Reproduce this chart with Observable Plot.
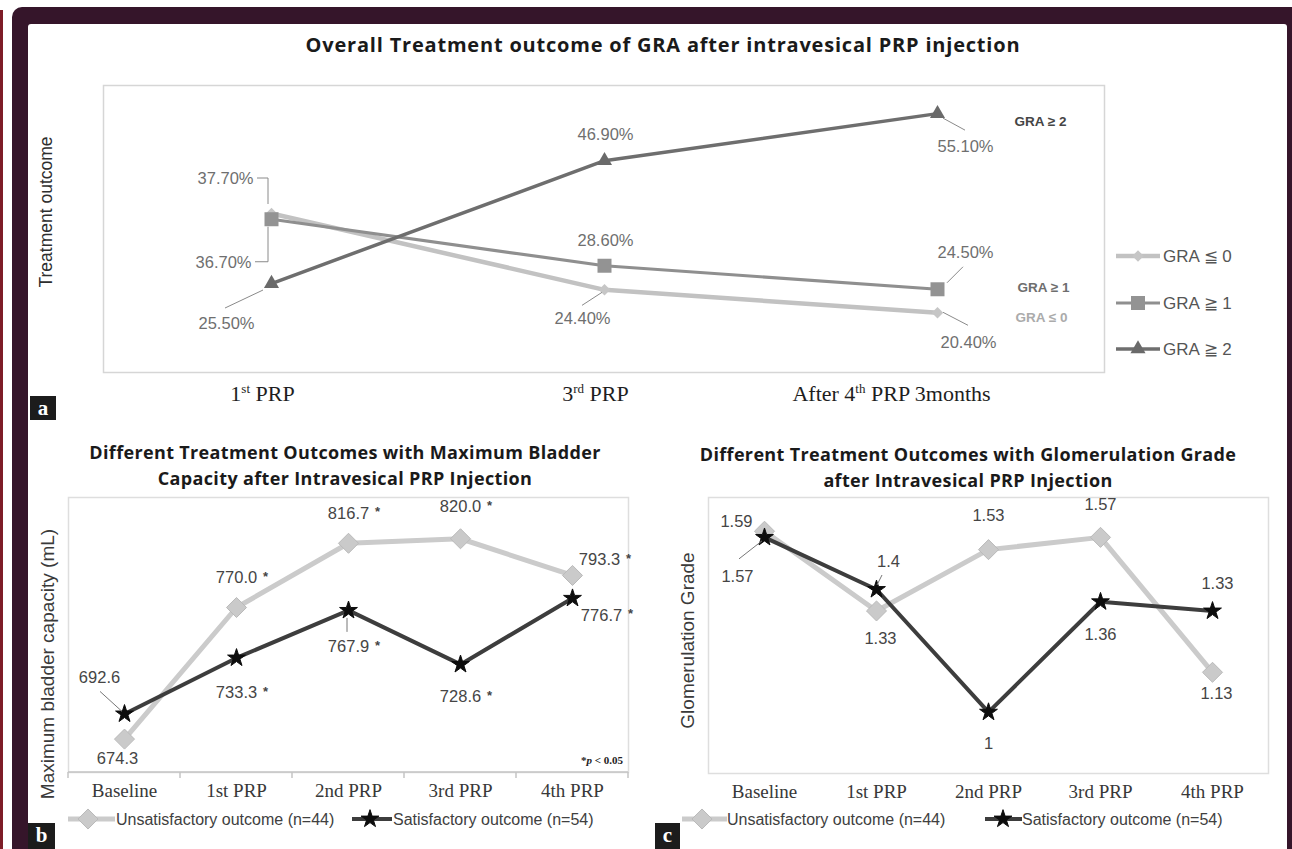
<!DOCTYPE html>
<html>
<head>
<meta charset="utf-8">
<script src="https://cdn.jsdelivr.net/npm/d3@7"></script>
<script src="https://cdn.jsdelivr.net/npm/@observablehq/plot@0.6"></script>
<style>
html,body{margin:0;padding:0;}
body{width:1292px;height:849px;overflow:hidden;position:relative;background:#fff;font-family:"Liberation Sans",Arial,sans-serif;}
.abs{position:absolute;}
#redstrip{left:0;top:10px;width:3px;height:839px;background:#7e1d27;}
#darkframe{left:12px;top:7px;width:1280px;height:860px;background:#35152a;border-radius:10px 0 0 0;}
#inner{left:28px;top:24px;width:1259px;height:840px;background:#fff;border-radius:3px;}
.title{font-family:"Open Sans",sans-serif;font-weight:700;color:#1a1a1a;text-align:center;white-space:nowrap;line-height:26px;}
.tag{background:#1c1c1c;color:#fff;font-family:"Liberation Serif",serif;font-weight:700;font-size:21px;text-align:center;line-height:24px;}
</style>
</head>
<body>
<div class="abs" id="redstrip"></div>
<div class="abs" id="darkframe"></div>
<div class="abs" id="inner"></div>
<div class="abs title" style="left:263px;top:32px;width:800px;font-size:20px;letter-spacing:0.8px;">Overall Treatment outcome of GRA after intravesical PRP injection</div>
<div class="abs title" style="left:45px;top:439px;width:600px;font-size:18px;letter-spacing:0.35px;">Different Treatment Outcomes with Maximum Bladder<br>Capacity after Intravesical PRP Injection</div>
<div class="abs title" style="left:668px;top:441px;width:600px;font-size:18px;letter-spacing:0.35px;">Different Treatment Outcomes with Glomerulation Grade<br>after Intravesical PRP Injection</div>
<div class="abs tag" style="left:30px;top:396px;width:26px;height:24px;">a</div>
<div class="abs tag" style="left:28px;top:823px;width:27px;height:26px;">b</div>
<div class="abs tag" style="left:655px;top:823px;width:25px;height:26px;">c</div>
<script>
// ---------------- DATA ----------------
// Panel a
const stagesA = ["1st PRP", "3rd PRP", "After 4th PRP 3months"];
const groupsA = ["GRA ≦ 0", "GRA ≧ 1", "GRA ≧ 2"];
const inlineNamesA = ["GRA ≤ 0", "GRA ≥ 1", "GRA ≥ 2"];
const gra0 = [37.7, 24.4, 20.4];
const gra1 = [36.7, 28.6, 24.5];
const gra2 = [25.5, 46.9, 55.1];

// Panels b and c
const stagesBC = ["Baseline", "1st PRP", "2nd PRP", "3rd PRP", "4th PRP"];
const groupsBC = ["Unsatisfactory outcome (n=44)", "Satisfactory outcome (n=54)"];
const capacityUnsat = [674.3, 770.0, 816.7, 820.0, 793.3];
const capacitySat = [692.6, 733.3, 767.9, 728.6, 776.7];
const capacitySig = [false, true, true, true, true];
const gradeUnsat = [1.59, 1.33, 1.53, 1.57, 1.13];
const gradeSat = [1.57, 1.4, 1, 1.36, 1.33];

// ---------------- STYLE ----------------
const serif = "'Liberation Serif','Times New Roman',serif";
const sans = "'Liberation Sans',Arial,sans-serif";
const diamondSym = {draw(c, size) {const h = Math.sqrt(size / 2); c.moveTo(0, -h); c.lineTo(h, 0); c.lineTo(0, h); c.lineTo(-h, 0); c.closePath();}};
const styleA = [
  {line: "#c2c2c2", width: 4.5, symbol: diamondSym, r: 4.6, fill: "#c6c6c6"},
  {line: "#8f8f8f", width: 3.2, symbol: "square", r: 7.9, fill: "#939393"},
  {line: "#6e6e6e", width: 3.5, symbol: "triangle", r: 5.6, fill: "#6a6a6a"}
];
const styleBC = [
  {line: "#cbcbcb", width: 5, symbol: diamondSym, r: 8, fill: "#cacaca", stroke: "#bababa"},
  {line: "#3d3d3d", width: 4, symbol: "star", r: 5.6, fill: "#0d0d0d", stroke: "#0d0d0d"}
];
// label offsets [dx, dy, anchor] per group/stage (annotation placement only)
const labelPosA = [
  [[-18, -35, "end"], [-22, 29], [31, 30]],
  [[-20, 43, "end"], [1, -25], [28, -37]],
  [[-45, 40], [1, -26], [28, 33]]
];
const leadersA = [
  [0, 0, [[-14, -35], [-3, -35], [-3, -9]]],
  [1, 0, [[-16, 43], [-3, 43], [-3, 8]]],
  [2, 0, [[-46, 25], [-8, 7]]],
  [0, 1, [[-22, 16], [-2, 3]]],
  [2, 2, [[6, 5], [28, 17]]],
  [1, 2, [[10, -6], [26, -22]]],
  [0, 2, [[6, 0], [31, 13]]]
];
const inlinePosA = [[104, 5, "#ababab"], [106, -2, "#6e6e6e"], [103, 8, "#454545"]];
const tickShiftA = [-9, -9, -46];
const labelPosB = [
  [[-7, 20], [0, -30], [0, -30], [0, -32], [27, -16]],
  [[-25, -36], [0, 35], [0, 36], [0, 32], [29, 17]]
];
const leadersB = [[1, 0, [[-24, -22], [-2, -2]]], [1, 2, [[-1, 8], [-1, 22]]]];
const labelPosC = [
  [[-12, -10, "end"], [4, 28], [0, -34], [0, -33], [4, 21]],
  [[-27, 39], [12, -28], [0, 32], [0, 33], [5, -27]]
];
const leadersC = [[1, 0, [[-25, 22], [-2, 4]]], [1, 1, [[6, -14], [1, -4]]]];

// ---------------- HELPERS ----------------
function svgOf(p) { return p.tagName.toLowerCase() === "svg" ? p : p.querySelector("svg"); }
function place(el, left, top) {
  const d = document.createElement("div");
  d.style.cssText = `position:absolute;left:${left}px;top:${top}px;`;
  d.appendChild(el); document.body.appendChild(d);
}
function drawLeaders(plot, rowsByGroup, specs, color) {
  const sx = plot.scale("x"), sy = plot.scale("y");
  const g = d3.select(svgOf(plot)).append("g").attr("fill", "none").attr("stroke", color).attr("stroke-width", 1);
  for (const [gi, si, pts] of specs) {
    const r = rowsByGroup[gi][si];
    const x0 = sx.apply(r.stage), y0 = sy.apply(r.value);
    g.append("polyline").attr("points", pts.map(([dx, dy]) => `${x0 + dx},${y0 + dy}`).join(" "));
  }
}
const symbolOf = s => typeof s === "string" ? ({square: d3.symbolSquare, triangle: d3.symbolTriangle, star: d3.symbolStar})[s] : s;

// ---------------- PANEL A ----------------
const valuesA = [gra0, gra1, gra2];
const rowsA = groupsA.map((g, gi) => stagesA.map((s, i) => ({group: g, stage: s, value: valuesA[gi][i]})));
const marksA = [Plot.frame({stroke: "#d6d6d6", strokeWidth: 1.5})];
rowsA.forEach((rows, gi) => {
  const st = styleA[gi];
  marksA.push(Plot.line(rows, {x: "stage", y: "value", stroke: st.line, strokeWidth: st.width}));
  marksA.push(Plot.dot(rows, {x: "stage", y: "value", symbol: st.symbol, r: st.r, fill: st.fill, stroke: "none"}));
});
rowsA.forEach((rows, gi) => rows.forEach((r, si) => {
  const [dx, dy, anchor = "middle"] = labelPosA[gi][si];
  marksA.push(Plot.text([r], {x: "stage", y: "value", text: d => d.value.toFixed(2) + "%", dx, dy, textAnchor: anchor,
    fontFamily: sans, fontSize: 16.5, fill: "#6f6f6f"}));
}));
rowsA.forEach((rows, gi) => {
  const r = rows[rows.length - 1];
  const [dx, dy, col] = inlinePosA[gi];
  marksA.push(Plot.text([r], {x: "stage", y: "value", text: () => inlineNamesA[gi], dx, dy, fontFamily: sans, fontWeight: "bold", fontSize: 13.5, fill: col}));
});
stagesA.forEach((s, i) => marksA.push(Plot.text([s], {x: d => d, text: d => d, frameAnchor: "bottom", dy: 28, dx: tickShiftA[i],
  fontFamily: serif, fontSize: 22, fill: "#1e1e1e"})));
marksA.push(Plot.text(["Treatment outcome"], {text: d => d, frameAnchor: "left", textAnchor: "middle", dx: -57, dy: -17, rotate: -90,
  fontFamily: sans, fontSize: 17.5, fill: "#2e2e2e"}));

const plotA = Plot.plot({
  width: 1250, height: 360, marginLeft: 73, marginRight: 176, marginTop: 25, marginBottom: 48,
  x: {type: "point", domain: stagesA, padding: 0.5, axis: null},
  y: {domain: [10, 60], axis: null},
  style: {background: "transparent", overflow: "visible"},
  marks: marksA
});
place(plotA, 30, 60);
drawLeaders(plotA, rowsA, leadersA, "#8a8a8a");
d3.select(svgOf(plotA)).selectAll("text").each(function () {
  const m = this.textContent.match(/^(.*?\d)(st|nd|rd|th)(\s.*)$/);
  if (!m) return;
  const t = d3.select(this); this.textContent = "";
  t.append("tspan").text(m[1]);
  t.append("tspan").attr("font-size", 13).attr("dy", -8).text(m[2]);
  t.append("tspan").attr("dy", 8).text(m[3]);
});

// ---------------- PANELS B & C ----------------
function panel(valuesU, valuesS, yDomain, labelPos, leaders, fmt, sig, yLabel, yLabelShift, left, mb) {
  const rows = [valuesU, valuesS].map((vals, gi) => stagesBC.map((s, i) => ({group: groupsBC[gi], stage: s, value: vals[i], i})));
  const marks = [Plot.frame({stroke: "#dedede", strokeWidth: 1.5})];
  rows.forEach((rs, gi) => {
    const st = styleBC[gi];
    marks.push(Plot.line(rs, {x: "stage", y: "value", stroke: st.line, strokeWidth: st.width}));
    marks.push(Plot.dot(rs, {x: "stage", y: "value", symbol: st.symbol, r: st.r, fill: st.fill, stroke: st.stroke, strokeWidth: 1}));
  });
  rows.forEach((rs, gi) => rs.forEach((r, si) => {
    const [dx, dy, anchor = "middle"] = labelPos[gi][si];
    marks.push(Plot.text([r], {x: "stage", y: "value", text: d => fmt(d.value), dx, dy, textAnchor: anchor, fontFamily: sans, fontSize: 16.5, fill: "#454545"}));
    if (sig && sig[si]) marks.push(Plot.text([r], {x: "stage", y: "value", text: () => "*", dx: dx + 29, dy: dy - 1, fontFamily: sans, fontSize: 13, fontWeight: "bold", fill: "#454545"}));
  }));
  marks.push(Plot.text(stagesBC, {x: d => d, text: d => d, frameAnchor: "bottom", dy: 24, fontFamily: serif, fontSize: 19, fill: "#383838"}));
  marks.push(Plot.text([yLabel], {text: d => d, frameAnchor: "left", textAnchor: "middle", dx: -21, dy: yLabelShift, rotate: -90,
    fontFamily: sans, fontSize: 19, fill: "#3a3a3a"}));
  const p = Plot.plot({
    width: 620, height: 320, marginLeft: 40, marginRight: 20, marginTop: 7, marginBottom: mb,
    x: {type: "point", domain: stagesBC, padding: 0.5, axis: null},
    y: {domain: yDomain, axis: null},
    style: {background: "transparent", overflow: "visible"},
    marks
  });
  place(p, left, 490);
  drawLeaders(p, rows, leaders, "#777");
  return p;
}

const plotB = panel(capacityUnsat, capacitySat, [650, 850], labelPosB, leadersB, v => v.toFixed(1), capacitySig,
  "Maximum bladder capacity (mL)", 29, 28, 38);
// x-axis line with category-boundary ticks for panel b
{
  const sx = plotB.scale("x"), sy = plotB.scale("y");
  const step = sx.apply(stagesBC[1]) - sx.apply(stagesBC[0]);
  const yb = sy.apply(650);
  const g = d3.select(svgOf(plotB)).append("g").attr("stroke", "#c4c4c4").attr("stroke-width", 1.5);
  g.append("line").attr("x1", sx.apply(stagesBC[0]) - step / 2).attr("x2", sx.apply(stagesBC[4]) + step / 2).attr("y1", yb).attr("y2", yb);
  stagesBC.concat([null]).forEach((s, i) => {
    const x = (i < stagesBC.length ? sx.apply(s) : sx.apply(stagesBC[4]) + step) - step / 2;
    g.append("line").attr("x1", x).attr("x2", x).attr("y1", yb).attr("y2", yb + 6);
  });
  const t = d3.select(svgOf(plotB)).append("text").attr("x", sx.apply(stagesBC[4]) + step / 2 - 5).attr("y", yb - 8)
    .attr("text-anchor", "end").attr("font-family", serif).attr("font-weight", "bold").attr("font-size", 11).attr("fill", "#222");
  t.append("tspan").text("*");
  t.append("tspan").attr("font-style", "italic").text("p");
  t.append("tspan").text(" < 0.05");
}

const plotC = panel(gradeUnsat, gradeSat, [0.8, 1.7], labelPosC, leadersC, v => String(v), null,
  "Glomerulation Grade", 5, 668, 37);

// ---------------- LEGENDS ----------------
const overlay = d3.create("svg").attr("width", 1292).attr("height", 849)
  .style("position", "absolute").style("left", 0).style("top", 0).style("pointer-events", "none");
document.body.appendChild(overlay.node());
function swatch(x1, x2, xm, y, st, label, tx, fs, col) {
  overlay.append("line").attr("x1", x1).attr("x2", x2).attr("y1", y).attr("y2", y).attr("stroke", st.line).attr("stroke-width", st.width);
  overlay.append("path").attr("d", d3.symbol(symbolOf(st.symbol), Math.PI * st.r * st.r)()).attr("transform", `translate(${xm},${y})`)
    .attr("fill", st.fill).attr("stroke", st.stroke || "none");
  overlay.append("text").attr("x", tx).attr("y", y).attr("dy", "0.35em").attr("font-family", sans).attr("font-size", fs).attr("fill", col).text(label);
}
groupsA.forEach((g, gi) => swatch(1116, 1160, 1138, [256, 303, 349][gi], styleA[gi], g, 1163, 17, "#555"));
swatch(68, 115, 88, 819, styleBC[0], groupsBC[0], 116, 16, "#404040");
swatch(352, 392, 370, 819, styleBC[1], groupsBC[1], 393, 16, "#404040");
swatch(682, 727, 702, 819, styleBC[0], groupsBC[0], 727, 16, "#404040");
swatch(985, 1022, 1003, 819, styleBC[1], groupsBC[1], 1022, 16, "#404040");
</script>
</body>
</html>
